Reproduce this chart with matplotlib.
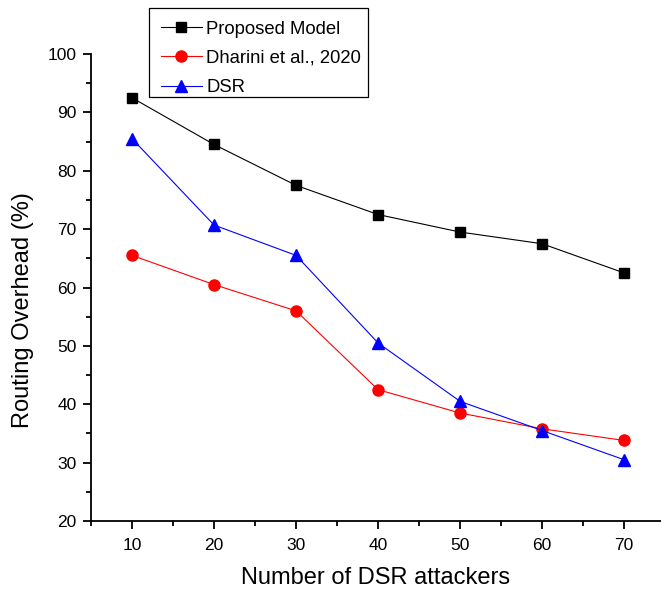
import matplotlib
matplotlib.use("Agg")
import matplotlib.pyplot as plt
from matplotlib.patches import Rectangle
from matplotlib.ticker import MultipleLocator

plt.rcParams['font.family'] = ['Liberation Sans', 'DejaVu Sans']

attackers = [10, 20, 30, 40, 50, 60, 70]
proposed = [92.5, 84.5, 77.5, 72.5, 69.5, 67.5, 62.5]
dharini = [65.5, 60.5, 56.0, 42.5, 38.5, 35.8, 33.8]
dsr = [85.5, 70.7, 65.5, 50.5, 40.5, 35.5, 30.5]

fig = plt.figure(figsize=(6.61, 5.96), dpi=100)
ax = fig.add_axes([0.1377, 0.1258, 0.8623, 0.7836])

ax.plot(attackers, proposed, color='black', lw=0.8, marker='s', ms=7, label='Proposed Model')
ax.plot(attackers, dharini, color='red', lw=0.8, marker='o', ms=8, label='Dharini et al., 2020')
ax.plot(attackers, dsr, color='blue', lw=0.8, marker='^', ms=9, label='DSR')

ax.set_xlim(5, 74.5)
ax.set_ylim(20, 100)
ax.xaxis.set_major_locator(MultipleLocator(10))
ax.xaxis.set_minor_locator(MultipleLocator(5))
ax.yaxis.set_major_locator(MultipleLocator(10))
ax.yaxis.set_minor_locator(MultipleLocator(5))
ax.spines['top'].set_visible(False)
ax.spines['right'].set_visible(False)
for s in ('left', 'bottom'):
    ax.spines[s].set_linewidth(1.3)
ax.tick_params(which='major', direction='out', length=6, width=1.3, labelsize=12.5)
ax.tick_params(axis='x', which='major', pad=6)
ax.tick_params(axis='y', which='major', pad=4.5)
ax.tick_params(which='minor', direction='out', length=3.5, width=1.3)

ax.set_xlabel('Number of DSR attackers', fontsize=17, labelpad=10)
ax.set_ylabel('Routing Overhead (%)', fontsize=17)
ax.yaxis.set_label_coords(-0.1, 0.452)

# legend entries without their own frame, boxed by a separate rectangle
fig.legend(loc='upper left', bbox_to_anchor=(0.2436, 0.9656), fontsize=13.3,
           frameon=False, borderpad=0, labelspacing=0.67, handlelength=2.2,
           handletextpad=0.25, borderaxespad=0)
fig.patches.append(Rectangle((0.2254, 0.8372), 0.3313, 0.1493, transform=fig.transFigure,
                             facecolor='white', edgecolor='black', linewidth=0.9, zorder=0))

fig.savefig('out.png', dpi=100)
